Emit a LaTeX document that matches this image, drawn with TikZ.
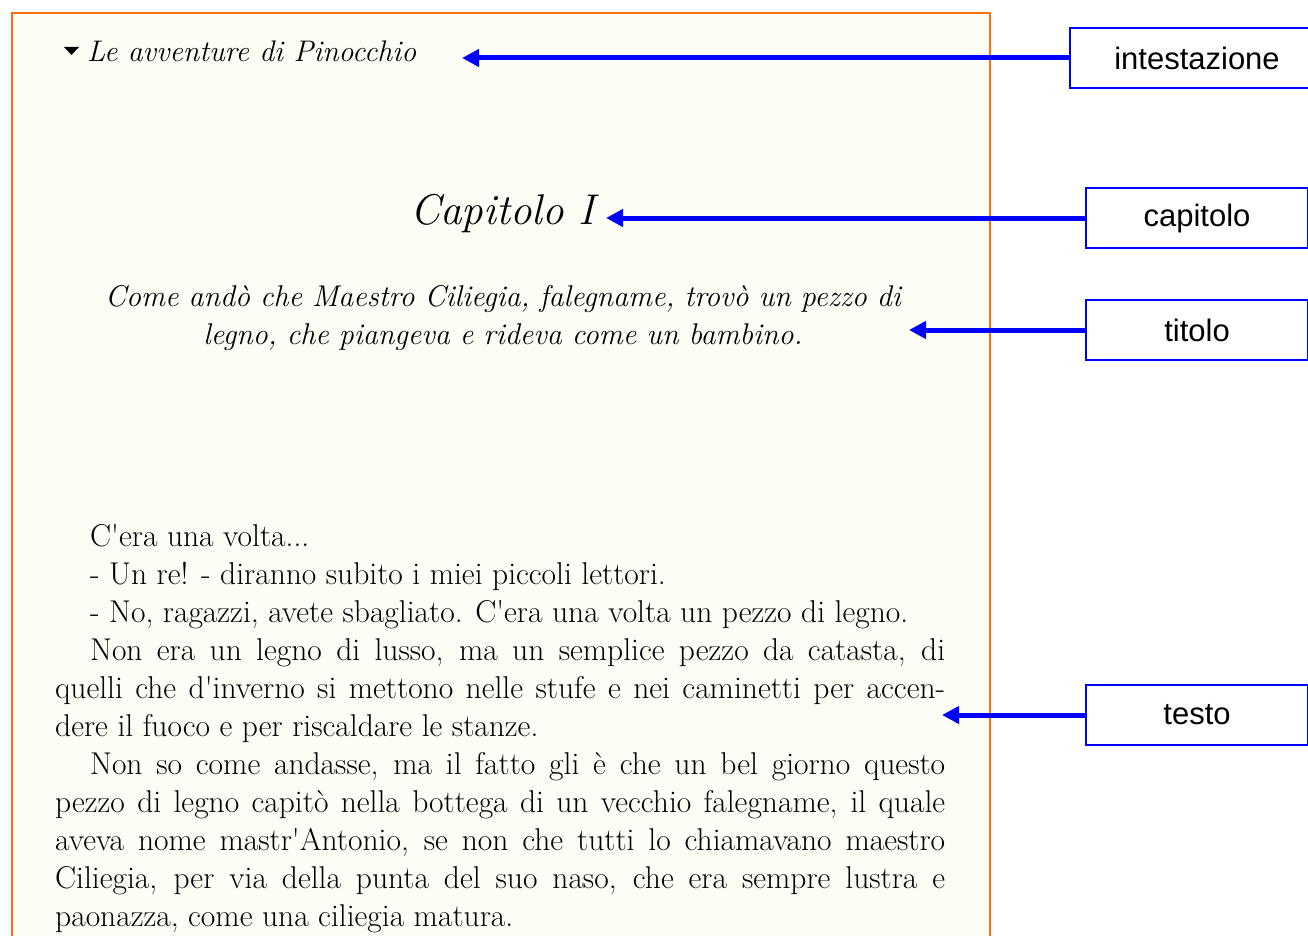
\documentclass[tikz,border=0pt]{standalone}
\usepackage{fontspec}
\newfontfamily\arialfont{Liberation Sans}
\usetikzlibrary{positioning,arrows.meta}
\definecolor{paper}{RGB}{253,253,246}
\definecolor{pageframe}{RGB}{255,110,10}

\begin{document}
\begin{tikzpicture}[x=1pt,y=1pt,
    tag/.style={draw=blue,line width=2pt,fill=white,anchor=west,inner sep=0pt,
      minimum height=60pt,font=\arialfont\fontsize{31}{36}\selectfont},
    pointer/.style={blue,line width=5pt,-{Triangle[length=17pt,width=17pt]}},
    book/.style={inner sep=0pt,text=black}]
    \useasboundingbox (0,0) rectangle (1308,-936);
    \fill [white] (0,0) rectangle (1308,-936);
    % the page
    \draw [pageframe,fill=paper,line width=2pt] (12,-13) rectangle (990,-950);
    \fill [black] (64,-47) -- (79,-47) -- (71.5,-55) -- cycle;
    \node [book,anchor=base west,font=\itshape\fontsize{29.8}{34}\selectfont] (header) at (87,-62) {Le avventure di Pinocchio};
    \node [book,anchor=base west,font=\itshape\fontsize{43}{48}\selectfont] (chapter) at (410,-224) {Capitolo I};
    \node [book,anchor=base,text width=900pt,align=center,font=\itshape\fontsize{30}{38}\selectfont] (title) at (503,-306)
      {Come andò che Maestro Ciliegia, falegname, trovò un pezzo di\\ legno, che piangeva e rideva come un bambino.};
    \node [book,anchor=base west,text width=890pt,align=justify,font=\fontsize{31.5}{38}\selectfont] (body) at (55,-546)
      {\hspace*{35pt}C\textquotesingle era una volta...\par
       \hspace*{35pt}- Un re! - diranno subito i miei piccoli lettori.\par
       \hspace*{35pt}- No, ragazzi, avete sbagliato. C\textquotesingle era una volta un pezzo di legno.\par
       \hspace*{35pt}Non era un legno di lusso, ma un semplice pezzo da catasta, di\linebreak
       quelli che d\textquotesingle inverno si mettono nelle stufe e nei caminetti per accen-\linebreak
       dere il fuoco e per riscaldare le stanze.\par
       \hspace*{35pt}Non so come andasse, ma il fatto gli è che un bel giorno questo\linebreak
       pezzo di legno capitò nella bottega di un vecchio falegname, il quale\linebreak
       aveva nome mastr\textquotesingle Antonio, se non che tutti lo chiamavano maestro\linebreak
       Ciliegia, per via della punta del suo naso, che era sempre lustra e\linebreak
       paonazza, come una ciliegia matura.\par};
    % the labels
    \node [tag,minimum width=254pt] (intestazione) at (1069,-58) {intestazione};
    \node [tag,minimum width=222pt] (capitolo) at (1085,-218) {capitolo};
    \node [tag,minimum width=222pt] (titolo) at (1085,-330) {titolo};
    \node [tag,minimum width=222pt] (testo) at (1085,-715) {testo};
    \coordinate (headtip) at (462,-58);
    \coordinate (chaptip) at (606,-218);
    \coordinate (titletip) at (909,-330);
    \coordinate (texttip) at (942,-715);
    \draw [pointer] (intestazione.west) -- (headtip);
    \draw [pointer] (capitolo.west) -- (chaptip);
    \draw [pointer] (titolo.west) -- (titletip);
    \draw [pointer] (testo.west) -- (texttip);
\end{tikzpicture}
\end{document}
